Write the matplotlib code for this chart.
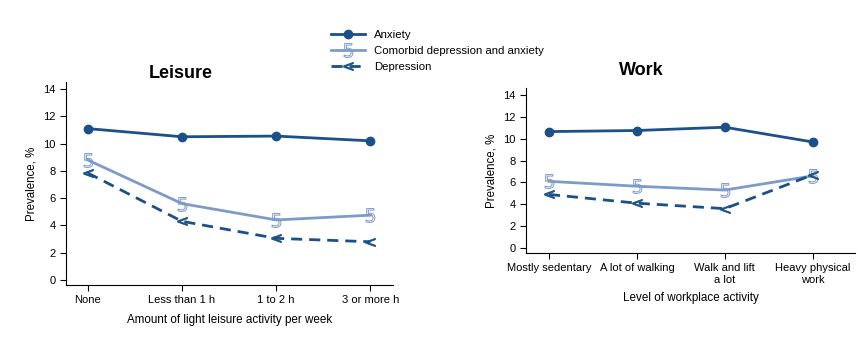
import matplotlib

matplotlib.use("Agg")
import matplotlib.pyplot as plt
from matplotlib.lines import Line2D

plt.rcParams["font.family"] = ["Liberation Sans", "DejaVu Sans"]

leisure_labels = ["None", "Less than 1 h", "1 to 2 h", "3 or more h"]
leisure_anxiety = [11.1, 10.5, 10.55, 10.2]
leisure_comorbid = [8.8, 5.6, 4.4, 4.75]
leisure_depression = [7.85, 4.3, 3.05, 2.8]

work_labels = ["Mostly sedentary", "A lot of walking", "Walk and lift\na lot", "Heavy physical\nwork"]
work_anxiety = [10.65, 10.75, 11.05, 9.7]
work_comorbid = [6.1, 5.65, 5.3, 6.6]
work_depression = [4.9, 4.1, 3.6, 6.7]

dark = "#1b5088"
light = "#7d9bc6"

fig = plt.figure(figsize=(8.61, 3.42), dpi=100)
ax_l = fig.add_axes([0.0767, 0.1667, 0.3798, 0.5933])
ax_r = fig.add_axes([0.611, 0.2602, 0.382, 0.4825])

anx_style = dict(color=dark, lw=2, marker="o", ms=6)
com_style = dict(color=light, lw=2, marker="$5$", ms=10, mfc="none", mew=0.7)
dep_style = dict(color=dark, lw=2, ls=(0, (4, 2.5)), marker="$<$", ms=7, mew=0.6)


def draw(ax, labels, anx, com, dep):
    x = range(len(labels))
    ax.plot(x, anx, **anx_style)
    ax.plot(x, com, **com_style)
    ax.plot(x, dep, **dep_style)
    ax.set_xticks(list(x))
    ax.set_xticklabels(labels, fontsize=8)
    ax.set_yticks(range(0, 15, 2))
    ax.tick_params(axis="y", labelsize=8, length=4, width=0.8)
    ax.tick_params(axis="x", length=4, width=0.8)
    ax.set_ylabel("Prevalence, %", fontsize=8.3)
    for side in ("top", "right"):
        ax.spines[side].set_visible(False)
    for side in ("left", "bottom"):
        ax.spines[side].set_linewidth(0.8)


draw(ax_l, leisure_labels, leisure_anxiety, leisure_comorbid, leisure_depression)
ax_l.set_xlim(-0.23, 3.24)
ax_l.set_ylim(-0.37, 14.51)
ax_l.set_xlabel("Amount of light leisure activity per week", fontsize=8.4, labelpad=6)
ax_l.set_title("Leisure", fontsize=13, fontweight="bold", x=0.35, pad=3)

draw(ax_r, work_labels, work_anxiety, work_comorbid, work_depression)
ax_r.set_xlim(-0.26, 3.48)
ax_r.set_ylim(-0.46, 14.64)
ax_r.set_xlabel("Level of workplace activity", fontsize=8.4, labelpad=5)
ax_r.set_title("Work", fontsize=13, fontweight="bold", x=0.35, pad=9)

handles = [
    Line2D([], [], **anx_style),
    Line2D([], [], **com_style),
    Line2D([], [], **dep_style),
]
names = ["Anxiety", "Comorbid depression and anxiety", "Depression"]
fig.legend(handles, names, loc="upper left", bbox_to_anchor=(0.378, 0.93),
           frameon=False, fontsize=8.2, handlelength=3.0, labelspacing=0.55,
           handletextpad=0.8, borderpad=0)

fig.savefig("out.png", dpi=100)
